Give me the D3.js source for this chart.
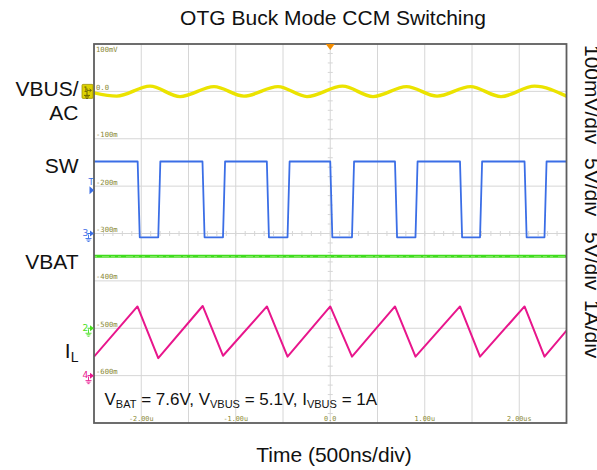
<!DOCTYPE html>
<html>
<head>
<meta charset="utf-8">
<script src="https://cdn.jsdelivr.net/npm/d3@7"></script>
<style>
  html, body { margin: 0; padding: 0; background: #ffffff; }
  svg { display: block; }
</style>
</head>
<body>
<svg id="chart" width="597" height="470"></svg>
<script>
// ---- capture data (time in µs) ----
const timeRange = [-2.5, 2.5];
const timeTicks = [-2, -1, 0, 1, 2];
const timeTickLabels = ["-2.00u", "-1.00u", "0.0", "1.00u", "2.00us"];
const levelTickLabels = ["100mV", "0.0", "-100m", "-200m", "-300m", "-400m", "-500m", "-600m"];

const channelLabels = ["VBUS/AC", "SW", "VBAT", "IL"];
const channelScaleLabels = ["100mV/div", "5V/div", "5V/div", "1A/div"];
const perDiv = [100, 5, 5, 1]; // mV, V, V, A per division

// VBUS/AC ripple extrema (mV)
const vbusTime = [-2.5, -2.26, -1.907, -1.59, -1.23, -0.913, -0.553, -0.246, 0.13, 0.452, 0.807, 1.13, 1.484, 1.807, 2.162, 2.5];
const vbusMv   = [-3, -10, 11, -11, 10, -10, 10, -11, 11, -11, 10, -10, 10, -11, 11, -10];

// SW node edges (µs) and levels (V)
const swFallTimes = [-2.038, -1.352, -0.671, 0.0, 0.685, 1.373, 2.056];
const swRiseTimes = [-1.820, -1.135, -0.452, 0.230, 0.902, 1.585, 2.267];
const swHighV = 7.6;
const swLowV = -0.4;
const swEdgeUs = 0.022;

// battery voltage (V)
const vbatTime = [-2.5, 2.5];
const vbatV = [7.6, 7.6];

// inductor current vertices (A)
const ilTime = [-2.5, -2.04, -1.82, -1.35, -1.135, -0.67, -0.452, 0.0, 0.23, 0.685, 0.902, 1.373, 1.585, 2.056, 2.267, 2.5];
const ilAmps = [0.40, 1.46, 0.37, 1.47, 0.42, 1.46, 0.40, 1.46, 0.40, 1.46, 0.40, 1.46, 0.40, 1.46, 0.40, 0.95];

// ---- layout ----
const frame = { left: 94, right: 566.5, top: 44, bottom: 423 };
const divs = 8;
const svg = d3.select("#chart");

const x = d3.scaleLinear().domain(timeRange).range([frame.left, frame.right]);
const yDiv = d3.scaleLinear().domain([0, divs]).range([frame.top, frame.bottom]);
function channelScale(scalePerDiv, groundDiv) {
  return d3.scaleLinear()
    .domain([groundDiv * scalePerDiv, (groundDiv - divs) * scalePerDiv])
    .range([frame.top, frame.bottom]);
}
const groundDivs = [1, 4, 6, 7];
const yVbus = channelScale(perDiv[0], groundDivs[0]);
const ySw   = channelScale(perDiv[1], groundDivs[1]);
const yBat  = channelScale(perDiv[2], groundDivs[2]);
const yIl   = channelScale(perDiv[3], groundDivs[3]);

const colors = { vbus: "#ebe300", sw: "#3b6ee6", bat: "#3fdc1c", il: "#e8168c" };
const olive = "#8a8936";
const gridColor = "#d6d6d6";

// ---- graticule ----
const grid = svg.append("g");
const xGridTicks = x.ticks(10).filter(t => t > timeRange[0] && t < timeRange[1]);
grid.selectAll("line.v").data(xGridTicks).join("line")
  .attr("x1", d => x(d)).attr("x2", d => x(d))
  .attr("y1", frame.top).attr("y2", frame.bottom)
  .attr("stroke", gridColor).attr("stroke-width", 1);
const yGridTicks = yDiv.ticks(divs).filter(d => d > 0 && d < divs);
grid.selectAll("line.h").data(yGridTicks).join("line")
  .attr("x1", frame.left).attr("x2", frame.right)
  .attr("y1", d => yDiv(d)).attr("y2", d => yDiv(d))
  .attr("stroke", gridColor).attr("stroke-width", 1);

// minor ticks along the centre cross
const cx = x(0), cy = yDiv(divs / 2);
grid.selectAll("line.mv").data(d3.range(0, divs + 0.001, 0.2)).join("line")
  .attr("x1", cx - 2.5).attr("x2", cx + 2.5)
  .attr("y1", d => yDiv(d)).attr("y2", d => yDiv(d))
  .attr("stroke", gridColor).attr("stroke-width", 1);
grid.selectAll("line.mh").data(d3.range(timeRange[0], timeRange[1] + 0.001, 0.1)).join("line")
  .attr("x1", d => x(d)).attr("x2", d => x(d))
  .attr("y1", cy - 2.5).attr("y2", cy + 2.5)
  .attr("stroke", gridColor).attr("stroke-width", 1);

// level labels inside the left edge
svg.append("g").selectAll("text").data(levelTickLabels).join("text")
  .attr("x", frame.left + 2)
  .attr("y", (d, i) => i === 0 ? yDiv(i) + 7.5 : yDiv(i) - 1.5)
  .attr("font-family", "DejaVu Sans Mono, monospace")
  .attr("font-size", 7.2)
  .attr("fill", olive)
  .text(d => d);

// time labels along the bottom
svg.append("g").selectAll("text").data(timeTicks).join("text")
  .attr("x", d => x(d))
  .attr("y", frame.bottom - 2)
  .attr("text-anchor", "middle")
  .attr("font-family", "DejaVu Sans Mono, monospace")
  .attr("font-size", 6.8)
  .attr("fill", olive)
  .text((d, i) => timeTickLabels[i]);

// ---- traces ----
const clipId = "plotClip";
svg.append("clipPath").attr("id", clipId).append("rect")
  .attr("x", frame.left).attr("y", frame.top)
  .attr("width", frame.right - frame.left).attr("height", frame.bottom - frame.top);
const traces = svg.append("g").attr("clip-path", `url(#${clipId})`);

// VBUS/AC ripple
const vbusLine = d3.line().x(d => x(d[0])).y(d => yVbus(d[1])).curve(d3.curveMonotoneX);
traces.append("path")
  .datum(d3.zip(vbusTime, vbusMv))
  .attr("d", vbusLine)
  .attr("fill", "none").attr("stroke", colors.vbus)
  .attr("stroke-width", 3.4).attr("stroke-linejoin", "round");

// SW node square wave built from the edge times
const swEdges = swFallTimes.map(t => ({ t, dir: -1 }))
  .concat(swRiseTimes.map(t => ({ t, dir: 1 })))
  .sort((a, b) => a.t - b.t);
const swPoints = [[timeRange[0], swEdges[0].dir < 0 ? swHighV : swLowV]];
swEdges.forEach(e => {
  const from = e.dir < 0 ? swHighV : swLowV;
  const to = e.dir < 0 ? swLowV : swHighV;
  swPoints.push([e.t, from], [e.t + swEdgeUs, to]);
});
swPoints.push([timeRange[1], swPoints[swPoints.length - 1][1]]);
traces.append("path")
  .datum(swPoints)
  .attr("d", d3.line().x(d => x(d[0])).y(d => ySw(d[1])))
  .attr("fill", "none").attr("stroke", colors.sw)
  .attr("stroke-width", 1.8).attr("stroke-linejoin", "round");

// VBAT
traces.append("path")
  .datum(d3.zip(vbatTime, vbatV))
  .attr("d", d3.line().x(d => x(d[0])).y(d => yBat(d[1])))
  .attr("fill", "none").attr("stroke", colors.bat)
  .attr("stroke-width", 3.2);
traces.append("path")
  .datum(d3.zip(vbatTime, vbatV))
  .attr("d", d3.line().x(d => x(d[0])).y(d => yBat(d[1]) + 0.5))
  .attr("fill", "none").attr("stroke", "#8fea70")
  .attr("stroke-width", 1).attr("stroke-dasharray", "3 5 7 2 4 3");

// inductor current
traces.append("path")
  .datum(d3.zip(ilTime, ilAmps))
  .attr("d", d3.line().x(d => x(d[0])).y(d => yIl(d[1])))
  .attr("fill", "none").attr("stroke", colors.il)
  .attr("stroke-width", 2).attr("stroke-linejoin", "round");

// ---- frame ----
svg.append("rect")
  .attr("x", frame.left).attr("y", frame.top)
  .attr("width", frame.right - frame.left).attr("height", frame.bottom - frame.top)
  .attr("fill", "none").attr("stroke", "#5e5e5e").attr("stroke-width", 1.8);

// trigger position marker
svg.append("path")
  .attr("d", `M${x(0) - 4.5},${frame.top} L${x(0) + 4.5},${frame.top} L${x(0)},${frame.top + 6} Z`)
  .attr("fill", "#f28c00");

// ---- channel ground markers on the left edge ----
const markers = svg.append("g");
function groundGlyph(g, gx, gy, color) {
  g.append("path")
    .attr("d", `M${gx},${gy} V${gy + 4} M${gx - 3},${gy + 4} H${gx + 3} M${gx - 2},${gy + 5.5} H${gx + 2} M${gx - 1},${gy + 7} H${gx + 1}`)
    .attr("stroke", color).attr("stroke-width", 0.9).attr("fill", "none");
}
function channelMarker(num, gy, color) {
  const g = markers.append("g");
  g.append("text").attr("x", 82.5).attr("y", gy + 2.5)
    .attr("font-family", "DejaVu Sans, sans-serif").attr("font-size", 9)
    .attr("fill", color).text(num);
  g.append("path").attr("d", `M87.5,${gy} H90.5`).attr("stroke", color).attr("stroke-width", 1);
  g.append("path").attr("d", `M90,${gy - 3} L94,${gy} L90,${gy + 3} Z`).attr("fill", color);
  groundGlyph(g, 88.5, gy + 1, color);
}
// channel 1 box
const m1 = markers.append("g");
const g1 = yVbus(0);
m1.append("rect").attr("x", 82).attr("y", g1 - 7).attr("width", 11).attr("height", 14)
  .attr("rx", 1).attr("fill", "#ded200").attr("stroke", "#9d9300").attr("stroke-width", 0.8);
m1.append("text").attr("x", 83.3).attr("y", g1 + 1)
  .attr("font-family", "DejaVu Sans, sans-serif").attr("font-size", 7.5)
  .attr("fill", "#5d5600").text("1");
m1.append("path").attr("d", `M87,${g1 - 3} V${g1 - 1} H91 M89.5,${g1 - 2.5} L91.5,${g1 - 1} L89.5,${g1 + 0.5}`)
  .attr("stroke", "#5d5600").attr("stroke-width", 0.8).attr("fill", "none");
groundGlyph(m1, 87, g1, "#5d5600");

channelMarker("3", ySw(0), colors.sw);
channelMarker("2", yBat(0), "#48e020");
channelMarker("4", yIl(0), colors.il);

// trigger level marker
const trigY = yDiv(3);
markers.append("text").attr("x", 88.5).attr("y", trigY - 1.5)
  .attr("font-family", "DejaVu Sans, sans-serif").attr("font-size", 8.5)
  .attr("fill", colors.sw).text("T");
markers.append("path").attr("d", `M89.5,${trigY} L94,${trigY + 4} L89.5,${trigY + 8} Z`)
  .attr("fill", colors.sw);

// ---- text ----
const font = "Liberation Sans, Arial, Helvetica, sans-serif";
svg.append("text").attr("x", 333).attr("y", 25).attr("text-anchor", "middle")
  .attr("font-family", font).attr("font-size", 21).attr("fill", "#111")
  .text("OTG Buck Mode CCM Switching");
svg.append("text").attr("x", 334).attr("y", 462).attr("text-anchor", "middle")
  .attr("font-family", font).attr("font-size", 21).attr("fill", "#111")
  .text("Time (500ns/div)");

// channel names on the left
const nameLayer = svg.append("g").attr("font-family", font).attr("font-size", 21)
  .attr("fill", "#111").attr("text-anchor", "end");
const vbusParts = channelLabels[0].split("/");
nameLayer.append("text").attr("x", 78.5).attr("y", 95.5).text(vbusParts[0] + "/");
nameLayer.append("text").attr("x", 78.5).attr("y", 120).text(vbusParts[1]);
nameLayer.append("text").attr("x", 78.5).attr("y", 173).text(channelLabels[1]);
nameLayer.append("text").attr("x", 78.5).attr("y", 269).text(channelLabels[2]);
const ilText = nameLayer.append("text").attr("x", 78.5).attr("y", 357.5);
ilText.append("tspan").text(channelLabels[3].charAt(0));
ilText.append("tspan").attr("font-size", 14).attr("dy", 4.5).text(channelLabels[3].slice(1));

// per-division scale labels, rotated on the right
const scaleStarts = [45, 158, 232, 300];
svg.append("g").selectAll("text").data(channelScaleLabels).join("text")
  .attr("transform", (d, i) => `translate(584.5,${scaleStarts[i]}) rotate(90)`)
  .attr("font-family", font).attr("font-size", 21).attr("fill", "#111")
  .text(d => d);

// operating-point annotation
const ann = svg.append("text").attr("x", 104.5).attr("y", 405)
  .attr("font-family", font).attr("font-size", 17).attr("fill", "#111");
const annParts = [
  ["V", false], ["BAT", true], [" = 7.6V, V", false], ["VBUS", true],
  [" = 5.1V, I", false], ["VBUS", true], [" = 1A", false]
];
let sub = false;
annParts.forEach(([txt, isSub]) => {
  const ts = ann.append("tspan").text(txt);
  if (isSub) ts.attr("font-size", 11);
  if (isSub !== sub) ts.attr("dy", isSub ? 3 : -3);
  sub = isSub;
});
</script>
</body>
</html>
